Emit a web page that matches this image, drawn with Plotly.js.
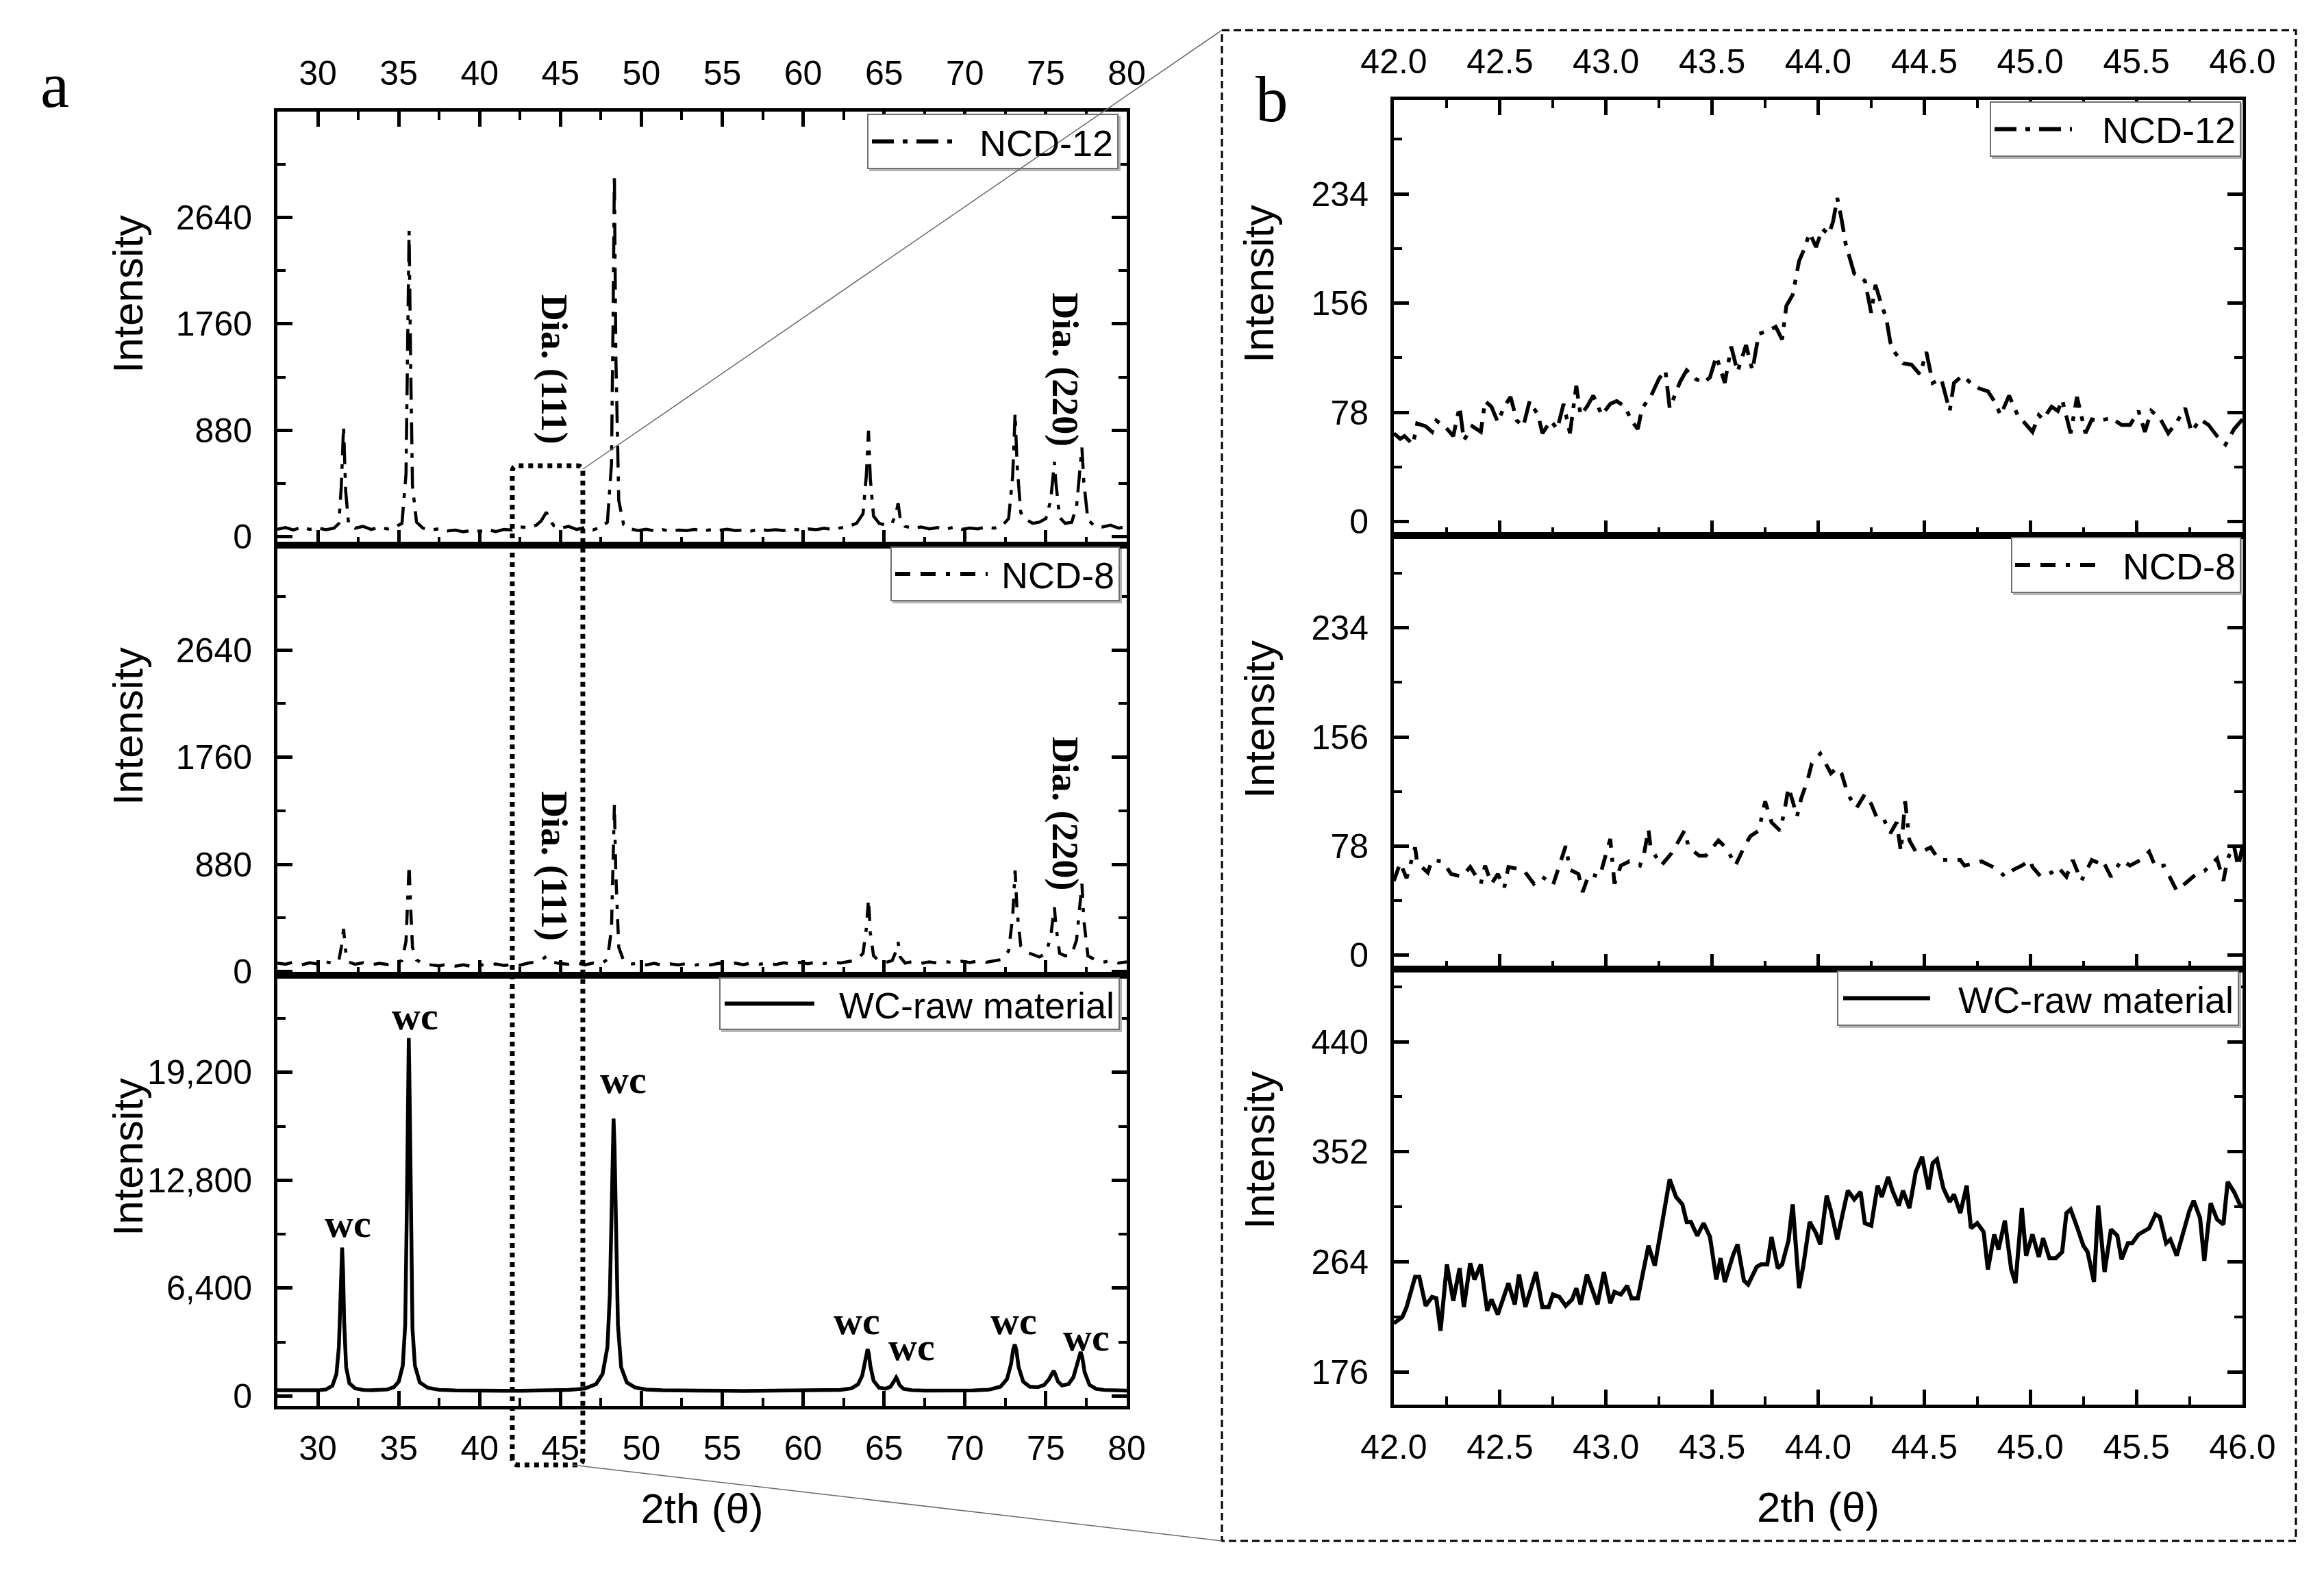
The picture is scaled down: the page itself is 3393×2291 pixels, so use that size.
<!DOCTYPE html>
<html><head><meta charset="utf-8">
<script src="https://cdn.plot.ly/plotly-3.0.1.min.js"></script>
<style>html,body{margin:0;padding:0;background:#fff;}#chart{width:3393px;height:2291px;}</style>
</head><body><div id="chart"></div>
<script>
// ---------------- DATA ----------------
// Wide scan (panel a): NCD-12 and NCD-8 share the same 2theta positions
const twoThetaNCD = [27.5,28.0,28.5,29.0,29.5,30.0,30.5,31.0,31.3,31.45,31.59,31.72,31.9,32.3,32.8,33.3,33.8,34.3,34.8,35.2,
35.45,35.55,35.64,35.74,35.85,36.1,36.5,37.0,37.5,38.0,38.5,39.0,39.5,40.0,40.5,41.0,41.5,42.0,42.5,43.0,
43.5,43.8,44.0,44.13,44.3,44.6,45.0,45.5,46.0,46.5,47.0,47.5,47.9,48.15,48.25,48.33,48.42,48.6,48.9,49.3,
49.8,50.3,50.8,51.3,51.8,52.3,52.8,53.3,53.8,54.3,54.8,55.3,55.8,56.3,56.8,57.3,57.8,58.3,58.8,59.3,
59.8,60.3,60.8,61.3,61.8,62.3,62.8,63.3,63.7,63.9,64.04,64.15,64.35,64.7,65.1,65.5,65.75,65.87,66.0,66.3,
66.8,67.3,67.8,68.3,68.8,69.3,69.8,70.3,70.8,71.3,71.8,72.3,72.7,72.95,73.1,73.22,73.45,73.8,74.2,74.6,
75.0,75.3,75.45,75.53,75.62,75.85,76.2,76.6,76.9,77.1,77.23,77.35,77.6,78.0,78.5,79.0,79.5,80.0];
const ncd12Wide = [62,75,55,80,60,72,58,70,110,420,911,380,105,70,85,60,78,64,82,110,
520,1700,2530,1400,420,120,70,55,66,48,55,40,52,45,58,42,60,55,80,75,
95,130,175,203,140,90,70,85,60,75,55,80,120,600,1800,3000,1500,300,100,65,
50,62,48,58,45,55,50,60,48,58,52,62,50,55,48,60,52,58,50,62,
55,65,58,70,60,75,85,110,190,500,877,480,170,110,95,110,200,277,150,85,
70,80,65,75,62,78,60,72,65,80,70,90,150,500,1019,600,200,140,110,120,
150,300,500,618,450,160,110,120,250,560,737,450,140,90,80,95,70,85];
const ncd8Wide = [70,60,78,55,72,62,80,65,90,200,350,170,80,60,72,55,68,58,75,90,
250,620,875,520,200,95,65,55,48,60,45,55,42,58,48,62,50,58,52,70,
78,95,115,125,100,75,65,60,72,55,70,62,100,350,900,1371,800,200,90,60,
70,55,68,50,62,55,66,52,64,55,68,58,70,56,72,60,70,58,72,62,
75,65,78,66,80,70,82,95,150,350,594,320,130,85,75,90,170,242,120,70,
82,68,80,70,82,72,85,74,86,76,88,100,170,450,830,500,210,160,140,120,
150,280,450,528,380,150,130,140,260,560,720,420,130,100,75,90,70,80];

const twoThetaWC = [27.5,28.0,28.5,29.0,29.5,30.0,30.5,30.9,31.15,31.3,31.38,31.44,31.5,31.56,31.63,31.75,31.95,32.3,32.8,33.3,
33.8,34.3,34.7,35.0,35.25,35.4,35.5,35.56,35.62,35.68,35.75,35.85,36.0,36.3,36.8,37.5,38.5,39.5,40.5,41.5,
42.5,43.5,44.5,45.5,46.5,47.2,47.6,47.9,48.05,48.15,48.22,48.28,48.34,48.42,48.55,48.75,49.1,49.6,50.3,51.3,
52.3,53.3,54.3,55.3,56.3,57.3,58.3,59.3,60.3,61.3,62.3,63.0,63.4,63.65,63.82,63.92,63.98,64.05,64.15,64.35,
64.7,65.1,65.4,65.6,65.7,65.75,65.82,65.95,66.2,66.7,67.5,68.5,69.5,70.5,71.5,72.2,72.6,72.85,72.98,73.08,
73.18,73.32,73.6,74.0,74.5,74.9,75.2,75.38,75.48,75.58,75.75,76.0,76.4,76.7,76.9,77.05,77.15,77.25,77.4,77.7,
78.1,78.6,79.2,80.0];
const wcWide = [330,320,315,310,320,330,380,600,1300,2900,5200,7700,8810,7400,4300,1700,750,450,350,330,
340,380,520,850,1800,4200,11000,18500,21240,17500,9500,4000,1800,800,480,360,320,300,295,300,
305,310,330,360,430,700,1300,2900,6000,11000,15000,16460,14800,9500,4200,1700,800,500,380,330,
310,300,295,300,295,300,305,300,310,320,360,450,700,1200,2000,2600,2775,2550,1800,900,
480,430,550,850,1050,1095,980,650,420,340,310,300,305,320,370,550,1000,1900,2750,3050,
2700,1700,850,550,520,650,1000,1380,1490,1300,850,620,700,1100,1800,2450,2610,2300,1400,650,
420,350,320,310];

// Zoomed scan (panel b), 42-46 deg
const zoomX12 = [42.00,42.03,42.05,42.09,42.11,42.15,42.18,42.20,42.24,42.28,42.31,42.33,42.37,42.41,42.43,42.46,42.49,42.52,42.55,42.58,
42.61,42.64,42.68,42.70,42.74,42.77,42.80,42.83,42.86,42.88,42.91,42.94,42.98,43.02,43.05,43.09,43.12,43.15,43.17,43.21,
43.25,43.28,43.30,43.33,43.35,43.38,43.42,43.46,43.49,43.52,43.56,43.59,43.62,43.66,43.69,43.72,43.76,43.80,43.83,43.85,
43.88,43.91,43.93,43.96,43.99,44.02,44.05,44.07,44.09,44.11,44.13,44.17,44.22,44.25,44.27,44.30,44.32,44.34,44.36,44.40,
44.44,44.48,44.51,44.54,44.58,44.62,44.64,44.68,44.72,44.76,44.80,44.83,44.86,44.90,44.94,44.97,45.01,45.04,45.06,45.10,
45.13,45.15,45.19,45.22,45.26,45.29,45.33,45.38,45.43,45.47,45.51,45.54,45.57,45.61,45.65,45.69,45.73,45.76,45.80,45.84,
45.88,45.92,45.96,46.00];
const zoomY12 = [63,59,61,55,70,68,64,72,68,61,82,58,68,64,86,82,71,82,89,72,
68,86,76,63,72,66,84,63,97,76,82,90,76,84,86,82,72,66,81,89,
102,108,81,93,100,108,102,99,103,118,99,125,107,126,108,134,136,139,130,154,
162,186,193,206,196,209,205,214,231,216,198,177,172,149,169,154,146,128,121,113,
112,105,121,99,102,79,99,104,99,95,93,86,76,90,76,71,64,76,73,82,
79,87,63,89,63,73,72,74,69,69,79,64,79,74,63,71,81,64,73,69,
61,55,66,73];

const zoomX8 = [42.00,42.03,42.06,42.10,42.11,42.16,42.18,42.23,42.27,42.32,42.36,42.41,42.43,42.46,42.49,42.52,42.54,42.61,42.66,42.70,
42.75,42.78,42.81,42.83,42.87,42.89,42.92,42.97,43.00,43.02,43.04,43.07,43.11,43.16,43.18,43.20,43.21,43.26,43.31,43.37,
43.39,43.44,43.47,43.53,43.57,43.61,43.65,43.68,43.72,43.75,43.78,43.82,43.84,43.86,43.88,43.90,43.92,43.95,43.97,44.01,
44.06,44.09,44.11,44.14,44.18,44.22,44.25,44.28,44.31,44.34,44.37,44.39,44.41,44.43,44.46,44.49,44.53,44.57,44.60,44.67,
44.69,44.77,44.81,44.85,44.88,44.92,44.96,45.00,45.01,45.05,45.10,45.13,45.17,45.20,45.24,45.29,45.32,45.34,45.38,45.43,
45.47,45.52,45.56,45.59,45.63,45.69,45.79,45.82,45.86,45.88,45.91,45.93,45.96,45.98,46.00];
const zoomY8 = [53,66,55,77,66,59,68,67,58,56,63,51,64,51,58,48,63,61,51,56,
50,64,78,61,58,45,58,56,71,83,51,64,67,64,73,90,77,64,73,89,
77,71,71,82,76,64,77,85,89,110,95,89,102,120,110,99,112,125,137,144,
130,134,130,115,105,115,108,97,97,87,95,74,110,82,74,74,77,68,68,68,
64,67,64,61,56,61,64,68,63,56,59,63,56,68,53,68,66,68,56,68,
64,68,74,63,64,46,59,60,66,69,53,69,78,63,78];

const zoomXWC = [42.00,42.04,42.06,42.10,42.12,42.15,42.18,42.20,42.22,42.25,42.28,42.31,42.33,42.36,42.38,42.41,42.44,42.46,42.49,42.54,
42.57,42.59,42.62,42.67,42.70,42.73,42.75,42.78,42.81,42.84,42.86,42.88,42.91,42.96,42.99,43.02,43.04,43.07,43.10,43.12,
43.15,43.20,43.23,43.28,43.30,43.33,43.36,43.38,43.40,43.43,43.46,43.49,43.52,43.54,43.56,43.60,43.62,43.65,43.67,43.71,
43.73,43.76,43.78,43.81,43.83,43.86,43.88,43.91,43.93,43.96,43.99,44.01,44.04,44.06,44.09,44.12,44.14,44.17,44.20,44.22,
44.25,44.28,44.30,44.33,44.35,44.38,44.40,44.43,44.46,44.49,44.52,44.54,44.56,44.59,44.62,44.64,44.67,44.70,44.72,44.75,
44.78,44.80,44.83,44.85,44.88,44.91,44.93,44.96,44.98,45.01,45.04,45.06,45.09,45.12,45.15,45.17,45.19,45.22,45.25,45.27,
45.30,45.32,45.35,45.38,45.41,45.43,45.46,45.48,45.51,45.54,45.56,45.59,45.61,45.64,45.66,45.69,45.72,45.75,45.77,45.80,
45.82,45.85,45.88,45.91,45.93,45.96,45.99,46.00];
const zoomYWC = [215,220,228,252,252,229,236,235,209,262,233,259,228,263,250,262,225,234,222,247,
230,254,228,256,228,228,238,236,229,234,243,230,254,230,256,231,240,238,245,235,
235,277,261,314,330,316,310,296,296,285,295,284,250,267,248,270,278,249,246,260,
262,262,284,259,262,281,310,243,261,296,287,278,317,305,282,306,321,314,320,295,
293,325,316,332,321,309,321,307,336,348,322,343,346,323,312,318,303,325,291,295,
288,258,286,274,297,258,247,307,269,286,268,283,267,267,272,303,306,292,277,272,
248,309,256,290,285,266,279,279,286,289,291,302,300,279,282,269,286,305,313,299,
265,311,298,294,328,320,309,308];

// ---------------- STYLE / LAYOUT ----------------
const W = 3393, H = 2291;
const PX = v => v / W, PY = v => 1 - v / H;
const SANS = 'Liberation Sans, Arial, sans-serif';
const SERIF = 'Liberation Serif, Times New Roman, serif';
const DASH12 = '32px,13px,7px,13px';
const DASH8 = '22px,15px,22px,15px,6px,15px';
const BLACK = '#000000';

const traces = [
  {x: twoThetaNCD, y: ncd12Wide, xaxis: 'x', yaxis: 'y', name: 'NCD-12', mode: 'lines', line: {color: BLACK, width: 4.5, dash: DASH12}},
  {x: twoThetaNCD, y: ncd8Wide, xaxis: 'x2', yaxis: 'y2', name: 'NCD-8', mode: 'lines', line: {color: BLACK, width: 4.5, dash: DASH8}},
  {x: twoThetaWC, y: wcWide, xaxis: 'x3', yaxis: 'y3', name: 'WC-raw material', mode: 'lines', line: {color: BLACK, width: 5.5}},
  {x: zoomX12, y: zoomY12, xaxis: 'x4', yaxis: 'y4', name: 'NCD-12', mode: 'lines', line: {color: BLACK, width: 5.5, dash: DASH12}},
  {x: zoomX8, y: zoomY8, xaxis: 'x5', yaxis: 'y5', name: 'NCD-8', mode: 'lines', line: {color: BLACK, width: 5.5, dash: DASH8}},
  {x: zoomXWC, y: zoomYWC, xaxis: 'x6', yaxis: 'y6', name: 'WC-raw material', mode: 'lines', line: {color: BLACK, width: 6}}
];

const tickFont = {family: SANS, size: 50, color: BLACK};
const MINOR = {ticks: 'inside', ticklen: 12, tickwidth: 4, tickcolor: BLACK};
function axisBase(extra) {
  return Object.assign({
    showline: true, linewidth: 5, linecolor: BLACK, ticks: 'inside', ticklen: 22, tickwidth: 5,
    tickcolor: BLACK, showgrid: false, zeroline: false, tickfont: tickFont
  }, extra);
}
const LX = [PX(405), PX(1645)], RX = [PX(2035), PX(3274)];
const LXR = [27.5, 80], RXR = [42, 46];
function xA(domain, range, anchor, side, labels, mirror, dt, mdt, fmt, title) {
  const t0 = range[0] === 42 ? 42 : 0;
  const o = axisBase({domain, range, anchor, side, showticklabels: labels, mirror,
    tick0: t0, dtick: dt, tickformat: fmt, ticklabelstandoff: 14,
    minor: Object.assign({dtick: mdt, tick0: t0}, MINOR)});
  if (title) o.title = {text: title, font: {family: SANS, size: 62, color: BLACK}, standoff: 40};
  return o;
}
function yA(domain, range, anchor, t0, dt, mdt, fmt) {
  return axisBase({domain, range, anchor, mirror: 'ticks', tick0: t0, dtick: dt, tickformat: fmt,
    ticklabelstandoff: 22, minor: Object.assign({dtick: mdt, tick0: t0}, MINOR)});
}

const layout = {
  width: W, height: H, margin: {l: 0, r: 0, t: 0, b: 0},
  paper_bgcolor: '#ffffff', plot_bgcolor: 'rgba(0,0,0,0)', showlegend: false,
  xaxis:  xA(LX, LXR, 'y', 'top', true, 'ticks', 5, 2.5, 'd'),
  xaxis2: xA(LX, LXR, 'y2', 'bottom', false, true, 5, 2.5, 'd'),
  xaxis3: xA(LX, LXR, 'y3', 'bottom', true, true, 5, 2.5, 'd', '2th (θ)'),
  xaxis4: xA(RX, RXR, 'y4', 'top', true, 'ticks', 0.5, 0.25, '.1f'),
  xaxis5: xA(RX, RXR, 'y5', 'bottom', false, true, 0.5, 0.25, '.1f'),
  xaxis6: xA(RX, RXR, 'y6', 'bottom', true, true, 0.5, 0.25, '.1f', '2th (θ)'),
  yaxis:  yA([PY(796), PY(163)], [-70, 3515], 'x', 0, 880, 440, 'd'),
  yaxis2: yA([PY(1424), PY(796)], [-30, 3500], 'x2', 0, 880, 440, 'd'),
  yaxis3: yA([PY(2053), PY(1424)], [-600, 24970], 'x3', 0, 6400, 3200, ',d'),
  yaxis4: yA([PY(782), PY(146)], [-10, 301], 'x4', 0, 78, 39, 'd'),
  yaxis5: yA([PY(1415), PY(782)], [-10, 300], 'x5', 0, 78, 39, 'd'),
  yaxis6: yA([PY(2051), PY(1415)], [150, 498], 'x6', 176, 88, 44, 'd'),
  shapes: [], annotations: []
};
const S = layout.shapes, A = layout.annotations;

// legends drawn as boxes with a long sample line and a label
function legendBox(x0, x1, y0, y1, l0, l1, label, dash) {
  const cy = (y0 + y1) / 2;
  S.push({type: 'rect', xref: 'paper', yref: 'paper', x0: PX(x0 + 3), x1: PX(x1 + 3), y0: PY(y0 + 3), y1: PY(y1 + 3),
    line: {color: '#b5b5b5', width: 2}, fillcolor: '#b5b5b5', layer: 'above'});
  S.push({type: 'rect', xref: 'paper', yref: 'paper', x0: PX(x0), x1: PX(x1), y0: PY(y0), y1: PY(y1),
    line: {color: '#707070', width: 2}, fillcolor: '#ffffff', layer: 'above'});
  S.push({type: 'line', xref: 'paper', yref: 'paper', x0: PX(l0), x1: PX(l1), y0: PY(cy), y1: PY(cy),
    line: {color: BLACK, width: 6, dash: dash || 'solid'}, layer: 'above'});
  A.push({xref: 'paper', yref: 'paper', x: PX(x1 - 5), y: PY(cy + 2), xanchor: 'right', yanchor: 'middle',
    text: label, showarrow: false, font: {family: SANS, size: 54, color: BLACK}});
}
legendBox(1267, 1632, 167, 246, 1273, 1390, 'NCD-12', DASH12);
legendBox(1301, 1634, 799, 877, 1307, 1442, 'NCD-8', DASH8);
legendBox(1051, 1634, 1428, 1503, 1058, 1189, 'WC-raw material');
legendBox(2906, 3271, 149, 228, 2912, 3025, 'NCD-12', DASH12);
legendBox(2937, 3271, 785, 865, 2942, 3071, 'NCD-8', DASH8);
legendBox(2683, 3268, 1418, 1497, 2691, 2818, 'WC-raw material');

// dotted zoom window on panel a (x in data units of the wide scan)
const zx0 = 42.02, zx1 = 46.38, zyT = PY(680), zyB = PY(2139), rx = 0.35, ry = 9 / H;
S.push({type: 'path', xref: 'x3', yref: 'paper', layer: 'above',
  path: `M${zx0},${zyB + ry} L${zx0},${zyT - ry} Q${zx0},${zyT} ${zx0 + rx},${zyT} L${zx1 - rx},${zyT} Q${zx1},${zyT} ${zx1},${zyT - ry} ` +
        `L${zx1},${zyB + ry} Q${zx1},${zyB} ${zx1 - rx},${zyB} L${zx0 + rx},${zyB} Q${zx0},${zyB} ${zx0},${zyB + ry} Z`,
  line: {color: BLACK, width: 7, dash: 'dot'}});
// dashed frame around panel b
S.push({type: 'rect', xref: 'paper', yref: 'paper', x0: PX(1784), x1: PX(3352), y0: PY(44), y1: PY(2250),
  line: {color: BLACK, width: 3, dash: '11px,6px'}, layer: 'above'});
// connector lines
S.push({type: 'line', xref: 'paper', yref: 'paper', x0: PX(851), y0: PY(685), x1: PX(1784), y1: PY(44),
  line: {color: '#6a6a6a', width: 1.5}, layer: 'above'});
S.push({type: 'line', xref: 'paper', yref: 'paper', x0: PX(835), y0: PY(2139), x1: PX(1784), y1: PY(2250),
  line: {color: '#6a6a6a', width: 1.5}, layer: 'above'});

// panel letters
A.push({xref: 'paper', yref: 'paper', x: PX(80), y: PY(124), text: 'a', showarrow: false,
  font: {family: SERIF, size: 95, color: BLACK}, xanchor: 'center', yanchor: 'middle'});
A.push({xref: 'paper', yref: 'paper', x: PX(1857), y: PY(145), text: 'b', showarrow: false,
  font: {family: SERIF, size: 95, color: BLACK}, xanchor: 'center', yanchor: 'middle'});

// y titles
const yTitles = [[186, 430], [186, 1061], [186, 1690], [1838, 414], [1838, 1050], [1838, 1679]];
yTitles.forEach(p => A.push({xref: 'paper', yref: 'paper', x: PX(p[0]), y: PY(p[1]), text: 'Intensity',
  textangle: -90, showarrow: false, xanchor: 'center', yanchor: 'middle', font: {family: SANS, size: 62, color: BLACK}}));

// peak labels
const diaFont = {family: SERIF, size: 54, color: BLACK, weight: 'bold'};
const wcFont = {family: SERIF, size: 58, color: BLACK, weight: 'bold'};
const diaLabels = [['x', 'y', 44.6, 1382, 'Dia. (111)'], ['x', 'y', 76.2, 1382, 'Dia. (220)'],
                   ['x2', 'y2', 44.6, 865, 'Dia. (111)'], ['x2', 'y2', 76.2, 1298, 'Dia. (220)']];
diaLabels.forEach(d => A.push({xref: d[0], yref: d[1], x: d[2], y: d[3], text: '<b>' + d[4] + '</b>', textangle: 90,
  showarrow: false, xanchor: 'center', yanchor: 'middle', font: diaFont}));
const wcLabelX = [31.87, 36.03, 48.86, 63.3, 66.7, 73.0, 77.5];
const wcLabelY = [10220, 22550, 18790, 4470, 2930, 4470, 3500];
wcLabelX.forEach((x, i) => A.push({xref: 'x3', yref: 'y3', x: x, y: wcLabelY[i], text: '<b>wc</b>',
  showarrow: false, xanchor: 'center', yanchor: 'middle', font: wcFont}));

Plotly.newPlot('chart', traces, layout, {staticPlot: true, displayModeBar: false});
</script>
</body></html>
